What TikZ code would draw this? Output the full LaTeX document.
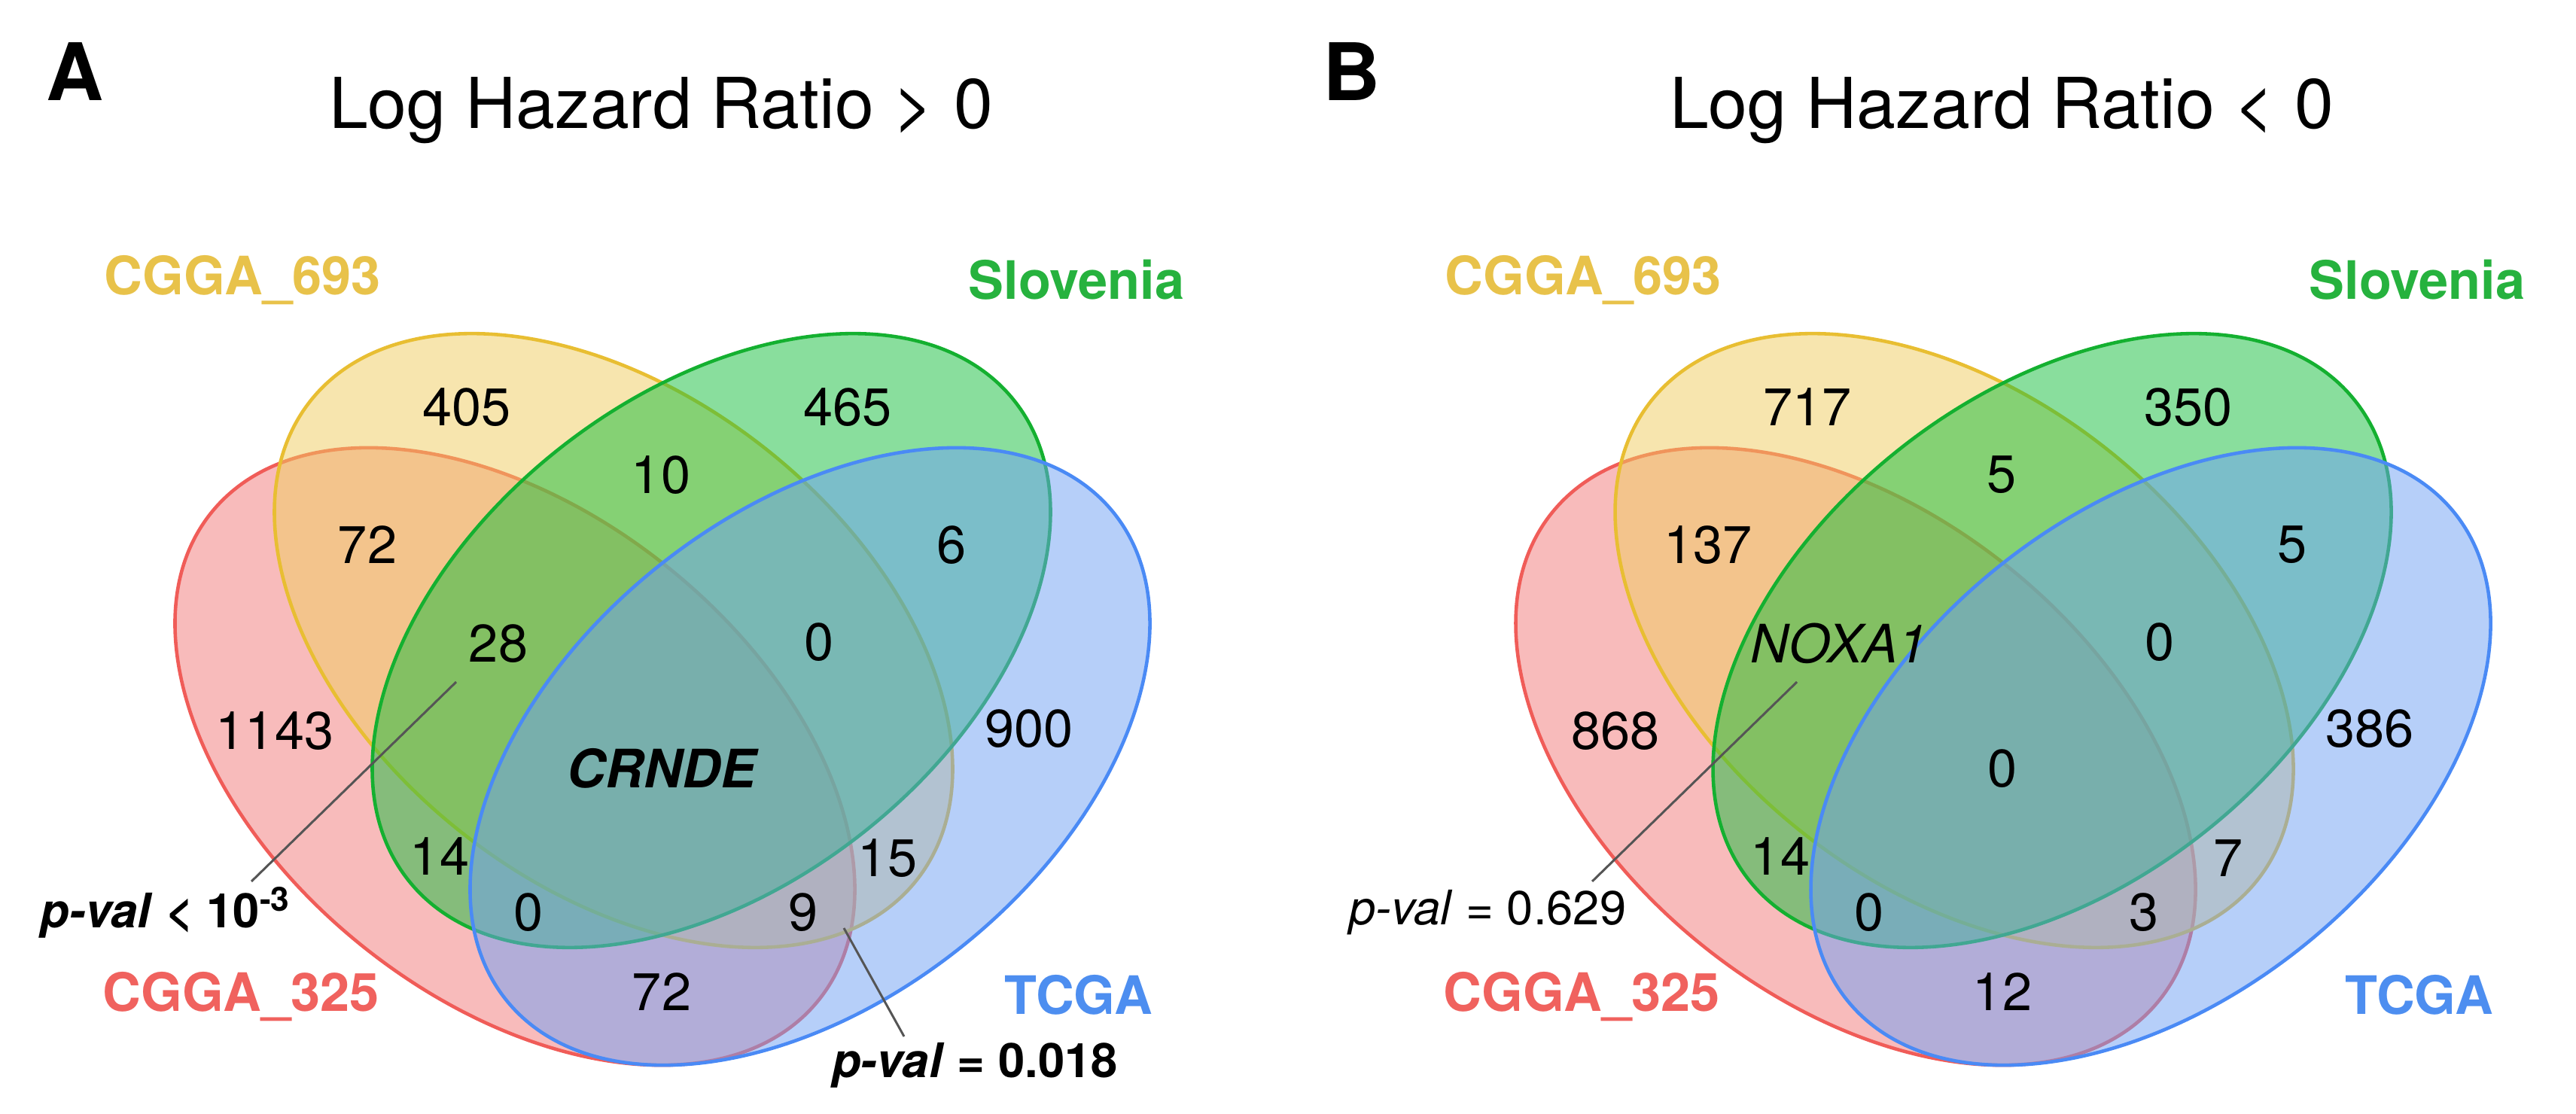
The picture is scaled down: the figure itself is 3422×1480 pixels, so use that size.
\documentclass[tikz,border=0pt]{standalone}
\usepackage{fontspec}
\setmainfont{TeX Gyre Heros}
\definecolor{redE}{HTML}{F05C58}
\definecolor{redF}{HTML}{F37878}
\definecolor{yelE}{HTML}{E8BE32}
\definecolor{yelF}{HTML}{F0CD5F}
\definecolor{grnE}{HTML}{14B030}
\definecolor{grnF}{HTML}{14BE3C}
\definecolor{bluE}{HTML}{4A8AF5}
\definecolor{bluF}{HTML}{6EA0F5}
\definecolor{redT}{HTML}{F0625E}
\definecolor{yelT}{HTML}{E8C24A}
\definecolor{grnT}{HTML}{26B23E}
\definecolor{bluT}{HTML}{4D8EF0}
\definecolor{lineC}{HTML}{555555}
\tikzset{
  vset/.style={line width=1.3pt, fill opacity=0.5},
  num/.style={font=\fontsize{20}{20}\selectfont, inner sep=0pt},
  setlab/.style={font=\fontsize{20}{20}\selectfont\bfseries, inner sep=0pt},
  ttl/.style={font=\fontsize{26.5}{26.5}\selectfont, inner sep=0pt},
  panel/.style={font=\fontsize{30}{30}\selectfont\bfseries, inner sep=0pt},
  pv/.style={font=\fontsize{18}{18}\selectfont, inner sep=0pt},
  pline/.style={draw=lineC, line width=0.85pt}
}
\newcommand\vennsets{%
  \draw[vset, draw=redE, fill=redF, rotate around={-38.7:(684,1005)}] (684,1005) ellipse [x radius=5.17cm, y radius=3.23cm];
  \draw[vset, draw=yelE, fill=yelF, rotate around={-38.3:(815,851)}] (815,851) ellipse [x radius=5.13cm, y radius=3.25cm];
  \draw[vset, draw=grnE, fill=grnF, rotate around={38.3:(945,851)}] (945,851) ellipse [x radius=5.13cm, y radius=3.25cm];
  \draw[vset, draw=bluE, fill=bluF, rotate around={38.7:(1076,1005)}] (1076,1005) ellipse [x radius=5.17cm, y radius=3.23cm];
  \node[setlab, text=yelT] at (322,372) {CGGA\_693};
  \node[setlab, text=grnT] at (1430,372) {Slovenia};
  \node[setlab, text=redT] at (320,1324) {CGGA\_325};
  \node[setlab, text=bluT] at (1433,1322) {TCGA};
}
\begin{document}
\begin{tikzpicture}[x=0.01cm, y=-0.01cm]
\useasboundingbox (0,0) rectangle (3422,1480);
\fill[white] (0,0) rectangle (3422,1480);
% ---------------- Panel A ----------------
\begin{scope}
\vennsets
\node[panel] (aA) at (100,95) {A};
\node[ttl] (aT) at (878,147) {Log Hazard Ratio > 0};
\node[num] (a1) at (620,541) {405};
\node[num] (a2) at (1126,541) {465};
\node[num] (a3) at (878,631) {10};
\node[num] (a4) at (488,724) {72};
\node[num] (a5) at (1264,724) {6};
\node[num] (a6) at (662,855) {28};
\node[num] (a7) at (1088,853) {0};
\node[num] (a8) at (365,971) {1143};
\node[num] (a9) at (1367,968) {900};
\node[num, font=\fontsize{20}{20}\selectfont\bfseries\itshape] (a10) at (879,1021) {CRNDE};
\node[num] (a11) at (584,1138) {14};
\node[num] (a12) at (1179,1140) {15};
\node[num] (a13) at (702,1212) {0};
\node[num] (a14) at (1067,1212) {9};
\node[num] (a15) at (879,1318) {72};
\node[pv, anchor=east] (apv1) at (387,1212) {\textbf{\textit{p-val}} \textbf{< 10\textsuperscript{-3}}};
\node[pv] (apv2) at (1295,1415) {\textbf{\textit{p-val}} \textbf{= 0.018}};
\coordinate (ac1s) at (606,906);
\coordinate (ac1e) at (334,1171);
\coordinate (ac2s) at (1121,1233);
\coordinate (ac2e) at (1201,1377);
\draw[pline] (ac1s) -- (ac1e);
\draw[pline] (ac2s) -- (ac2e);
\end{scope}
% ---------------- Panel B ----------------
\node[panel] (bB) at (1796,95) {B};
\begin{scope}[xshift=17.8cm]
\vennsets
\node[ttl] (bT) at (878,147) {Log Hazard Ratio < 0};
\node[num] (b1) at (620,541) {717};
\node[num] (b2) at (1126,541) {350};
\node[num] (b3) at (878,631) {5};
\node[num] (b4) at (488,724) {137};
\node[num] (b5) at (1264,724) {5};
\node[num, font=\fontsize{20}{20}\selectfont\itshape] (b6) at (662,855) {NOXA1};
\node[num] (b7) at (1088,853) {0};
\node[num] (b8) at (365,971) {868};
\node[num] (b9) at (1367,968) {386};
\node[num] (b10) at (879,1021) {0};
\node[num] (b11) at (584,1138) {14};
\node[num] (b12) at (1179,1140) {7};
\node[num] (b13) at (702,1212) {0};
\node[num] (b14) at (1067,1212) {3};
\node[num] (b15) at (879,1318) {12};
\node[pv, anchor=east] (bpv1) at (380,1212) {\textit{p-val} = 0.629};
\coordinate (bc1s) at (606,906);
\coordinate (bc1e) at (334,1171);
\draw[pline] (bc1s) -- (bc1e);
\end{scope}
\end{tikzpicture}
\end{document}
